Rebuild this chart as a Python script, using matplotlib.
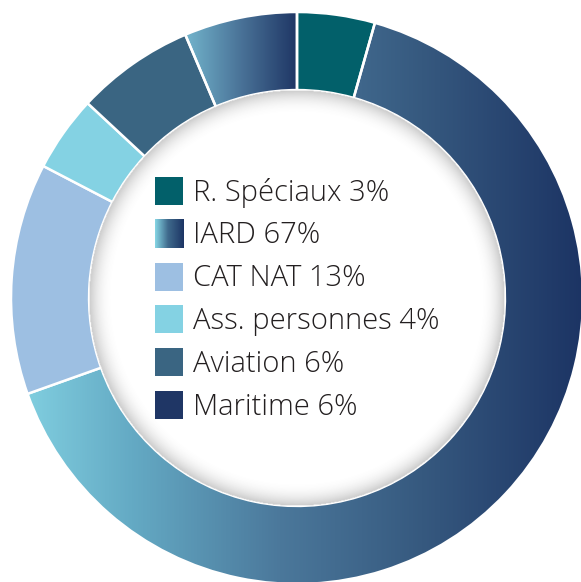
import matplotlib
matplotlib.use('Agg')
import matplotlib.pyplot as plt
import numpy as np
from matplotlib.colors import LinearSegmentedColormap
from matplotlib.patches import Rectangle

# data
labels = ['R. Spéciaux', 'IARD', 'CAT NAT', 'Ass. personnes', 'Aviation', 'Maritime']
pct_labels = [3, 67, 13, 4, 6, 6]
# arc sizes as drawn in the ring (%)
shares = [4.4, 65.3, 13.1, 4.3, 6.7, 6.4]
colors = ['#02606a', '#3a6582', '#9dbfe2', '#84d2e3', '#3a6582', '#1f3665']

iard_cmap = LinearSegmentedColormap.from_list(
    'iard', [(0.0, '#84d3e3'), (0.21, '#64aac4'), (0.47, '#4b789b'),
             (0.72, '#36597f'), (1.0, '#1c3464')])
mar_cmap = LinearSegmentedColormap.from_list(
    'mar', ['#74b7ce', '#4a7398', '#1e3564'])
swatch_cmap = LinearSegmentedColormap.from_list(
    'sw', [(0.0, '#86d6e5'), (0.45, '#3f6a8c'), (1.0, '#1c3464')])

W, H = 581, 582
cx, cy, R = 297, 298, 286
x0, x1 = -cx / R, (W - cx) / R
y0, y1 = -(H - cy) / R, cy / R
ring = 0.273

fig = plt.figure(figsize=(W / 100, H / 100), dpi=100, facecolor='white')
ax = fig.add_axes([0, 0, 1, 1])
ax.set_xlim(x0, x1)
ax.set_ylim(y0, y1)
ax.set_aspect('equal')
ax.axis('off')

wedges, _ = ax.pie(shares, colors=colors, startangle=90, counterclock=False,
                   radius=1, wedgeprops=dict(width=ring, edgecolor='white', linewidth=1.8))
ax.set_xlim(x0, x1)
ax.set_ylim(y0, y1)

# horizontal gradients for IARD and Maritime
grad = np.linspace(0, 1, 512).reshape(1, -1)
for idx, cmap in [(1, iard_cmap), (5, mar_cmap)]:
    w = wedges[idx]
    w.set_facecolor('none')
    if idx == 1:
        ext = [-1.0, 1.0, -1.0, 1.0]
    else:
        ext = [-0.40, 0.0, 0.0, 1.0]
    im = ax.imshow(grad, cmap=cmap, extent=ext, aspect='auto', zorder=0.5,
                   interpolation='bilinear')
    im.set_clip_path(w)

# white hole with inner shadow
ri = 1 - ring
n = 600
g = np.linspace(-ri, ri, n)
xx, yy = np.meshgrid(g, g)
rr = np.hypot(xx, yy)
t = np.clip((rr - (ri - 0.085)) / 0.085, 0, 1)
alpha = 0.35 * t ** 2.2
alpha[rr > ri] = 0
shade = np.zeros((n, n, 4))
shade[..., :3] = 0.42
shade[..., 3] = alpha
base = plt.Circle((0, 0), ri, color='white', zorder=2, lw=0)
ax.add_patch(base)
ax.imshow(shade, extent=[-ri, ri, -ri, ri], zorder=3, interpolation='bilinear')
ax.set_xlim(x0, x1)
ax.set_ylim(y0, y1)

# legend drawn in the hole
sx, sw, sh = -0.4965, 0.098, 0.098
ty0, step = 0.374, 0.1497
for i, (lab, p) in enumerate(zip(labels, pct_labels)):
    yc = ty0 - i * step
    if i == 1:
        im = ax.imshow(grad, cmap=swatch_cmap, extent=[sx, sx + sw, yc - sh / 2, yc + sh / 2],
                       aspect='auto', zorder=4)
    else:
        ax.add_patch(Rectangle((sx, yc - sh / 2), sw, sh, facecolor=colors[i],
                               edgecolor='none', zorder=4))
    ax.text(sx + 0.133, yc - 0.006, f'{lab} {p}%', fontsize=21, family='Open Sans',
            weight='light', color='#231f20', va='center', ha='left', zorder=5)

ax.set_xlim(x0, x1)
ax.set_ylim(y0, y1)
fig.savefig('out.png', dpi=100, facecolor='white')
